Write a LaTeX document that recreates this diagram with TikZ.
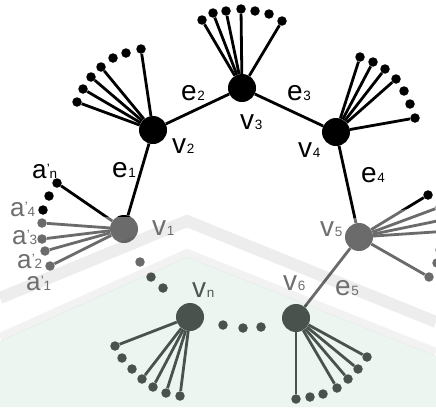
\documentclass[tikz,border=0pt]{standalone}
\usepackage{fontspec}
\setmainfont{Liberation Sans}
\definecolor{inkgray}{RGB}{110,110,110}
\definecolor{inkgreen}{RGB}{78,88,82}
\definecolor{tintgreen}{RGB}{205,229,216}
\newcommand\mainsz{\fontsize{28}{28}\selectfont}
\newcommand\subsz{\fontsize{13.5}{13.5}\selectfont}
\newcommand\sublab[2]{#1\kern0.6pt{\subsz #2}}
\newcommand\alab[1]{a\kern0.2pt\raisebox{5pt}{\subsz'}\kern-0.3pt{\subsz #1}}
\begin{document}
\begin{tikzpicture}[x=1pt,y=-1pt,
  vert/.style={circle,fill=black,minimum size=28pt,inner sep=0pt},
  leaf/.style={circle,fill=black,minimum size=9.5pt,inner sep=0pt},
  link/.style={line width=2.8pt},
  lab/.style={anchor=base west,inner sep=0pt,font=\mainsz,text height=1ex,text depth=0pt},
  alabel/.style={lab,font=\fontsize{26}{26}\selectfont}]
\clip (0,0) rectangle (436,407);
\fill[white] (0,0) rectangle (436,407);

% main vertices
\node[vert] (v1) at (124,229) {};
\node[vert] (v2) at (153,130) {};
\node[vert] (v3) at (242,88) {};
\node[vert] (v4) at (336,132) {};
\node[vert] (v5) at (359,237) {};
\node[vert] (v6) at (296,318) {};
\node[vert] (vn) at (190,317) {};

% path edges
\draw[link] (v1) -- (v2);
\draw[link] (v2) -- (v3);
\draw[link] (v3) -- (v4);
\draw[link] (v4) -- (v5);
\draw[link] (v5) -- (v6);

% pendant leaves of v1
\foreach \x/\y/\n in {57/183/an, 42/223/a4, 42/239/a3, 45/251/a2, 50/266/a1} {
  \node[leaf] (v1\n) at (\x,\y) {};
  \draw[link] (v1) -- (v1\n);
}
\foreach \x/\y [count=\i] in {49/196, 43/210} \node[leaf] (v1d\i) at (\x,\y) {};

% pendant leaves of v2
\foreach \x/\y [count=\i] in {77/102, 83/89, 91/77, 101/67, 141/49} {
  \node[leaf] (v2l\i) at (\x,\y) {};
  \draw[link] (v2) -- (v2l\i);
}
\foreach \x/\y [count=\i] in {113/58, 126/53} \node[leaf] (v2d\i) at (\x,\y) {};

% pendant leaves of v3
\foreach \x/\y [count=\i] in {202/20, 213/13, 226/11, 241/9, 282/21} {
  \node[leaf] (v3l\i) at (\x,\y) {};
  \draw[link] (v3) -- (v3l\i);
}
\foreach \x/\y [count=\i] in {255/11, 269/14} \node[leaf] (v3d\i) at (\x,\y) {};

% pendant leaves of v4
\foreach \x/\y [count=\i] in {360/57, 373/62, 385/69, 396/79, 415/118} {
  \node[leaf] (v4l\i) at (\x,\y) {};
  \draw[link] (v4) -- (v4l\i);
}
\foreach \x/\y [count=\i] in {404/91, 410/104} \node[leaf] (v4d\i) at (\x,\y) {};

% pendant leaves of v5
\foreach \x/\y [count=\i] in {428/195, 440/207, 447/219, 449/231, 429/277} {
  \node[leaf] (v5l\i) at (\x,\y) {};
  \draw[link] (v5) -- (v5l\i);
}
\foreach \x/\y [count=\i] in {440/250, 437/263} \node[leaf] (v5d\i) at (\x,\y) {};

% pendant leaves of vn
\foreach \x/\y [count=\i] in {115/346, 142/379, 153/387, 166/393, 180/396} {
  \node[leaf] (vnl\i) at (\x,\y) {};
  \draw[link] (vn) -- (vnl\i);
}
\foreach \x/\y [count=\i] in {122/358, 132/369} \node[leaf] (vnd\i) at (\x,\y) {};

% pendant leaves of v6
\foreach \x/\y [count=\i] in {296/399, 337/388, 348/379, 358/369, 367/357} {
  \node[leaf] (v6l\i) at (\x,\y) {};
  \draw[link] (v6) -- (v6l\i);
}
\foreach \x/\y [count=\i] in {310/397, 323/394} \node[leaf] (v6d\i) at (\x,\y) {};

% ellipsis dots along the omitted part of the path
\foreach \x/\y [count=\i] in {140/262, 151/277, 163/288} \node[leaf] (gapa\i) at (\x,\y) {};
\foreach \x/\y [count=\i] in {223/325, 243/328, 261/327} \node[leaf] (gapb\i) at (\x,\y) {};

% faded background emblem
\fill[white,opacity=0.42] (0,216) -- (350,219) -- (436,204) -- (436,356) -- (187,257) -- (0,341) -- cycle;
\fill[tintgreen,opacity=0.36] (0,341) -- (187,257) -- (436,356) -- (436,407) -- (0,407) -- cycle;
\draw[black,opacity=0.07,line width=12pt] (0,298) -- (187,221) -- (436,322);
\draw[black,opacity=0.05,line width=8pt] (0,337) -- (187,253) -- (436,352);

% labels
\node[alabel] (Lan) at (32,178) {\alab{n}};
\node[alabel,text=inkgray] (La4) at (10,216) {\alab{4}};
\node[alabel,text=inkgray] (La3) at (12,244) {\alab{3}};
\node[alabel,text=inkgray] (La2) at (17,268) {\alab{2}};
\node[alabel,text=inkgray] (La1) at (26,290) {\alab{1}};
\node[lab] (Le1) at (112,177) {\sublab{e}{1}};
\node[lab] (Lv2) at (172,153) {\sublab{v}{2}};
\node[lab] (Le2) at (181,100) {\sublab{e}{2}};
\node[lab] (Lv3) at (240,129) {\sublab{v}{3}};
\node[lab] (Le3) at (287,100) {\sublab{e}{3}};
\node[lab] (Lv4) at (298,157) {\sublab{v}{4}};
\node[lab] (Le4) at (361,182) {\sublab{e}{4}};
\node[lab,text=inkgray] (Lv1) at (152,235) {\sublab{v}{1}};
\node[lab,text=inkgray] (Lv5) at (320,236) {\sublab{v}{5}};
\node[lab,text=inkgray] (Lv6) at (283,290) {\sublab{v}{6}};
\node[lab,text=inkgray] (Le5) at (335,295) {\sublab{e}{5}};
\node[lab,text=inkgreen] (Lvn) at (192,297) {\sublab{v}{n}};
\end{tikzpicture}
\end{document}
